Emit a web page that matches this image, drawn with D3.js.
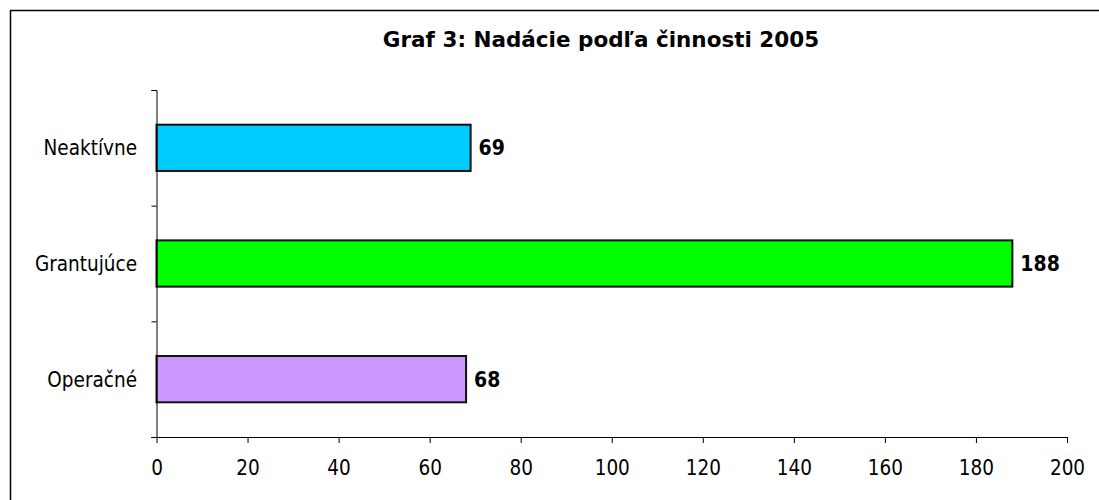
<!DOCTYPE html>
<html>
<head>
<meta charset="utf-8">
<script src="https://cdn.jsdelivr.net/npm/d3@7"></script>
<style>
  html, body { margin: 0; padding: 0; background: #fff; overflow: hidden; }
  svg { display: block; }
  text { font-family: "DejaVu Sans Condensed", "DejaVu Sans", sans-serif; fill: #000; }
</style>
</head>
<body>
<svg id="chart" width="1099" height="500"></svg>
<script>
const title = "Graf 3: Nadácie podľa činnosti 2005";
const categories = ["Neaktívne", "Grantujúce", "Operačné"];
const values = [69, 188, 68];
const colors = ["#00CCFF", "#00FF00", "#CC99FF"];
const xTicks = [0, 20, 40, 60, 80, 100, 120, 140, 160, 180, 200];

const svg = d3.select("#chart");

// outer frame
svg.append("rect")
  .attr("x", 10.5).attr("y", 10.5)
  .attr("width", 1200).attr("height", 600)
  .attr("fill", "#fff").attr("stroke", "#000").attr("stroke-width", 1.5);

const plot = { left: 156.5, right: 1067, top: 90, bottom: 437 };

const x = d3.scaleLinear().domain([0, 200]).range([plot.left, plot.right]);
const y = d3.scaleBand().domain(categories).range([plot.top, plot.bottom])
  .paddingInner(0.6).paddingOuter(0.3);
const yEdges = d3.scaleLinear().domain([0, categories.length]).range([plot.top, plot.bottom]);

// title
svg.append("text")
  .attr("x", 601).attr("y", 47)
  .attr("text-anchor", "middle")
  .style("font-family", "'DejaVu Sans', sans-serif")
  .style("font-weight", "bold").style("font-size", "21.5px")
  .text(title);

// bars
svg.selectAll("rect.bar").data(values).join("rect")
  .attr("class", "bar")
  .attr("x", x(0))
  .attr("y", (d, i) => y(categories[i]))
  .attr("width", d => x(d) - x(0))
  .attr("height", y.bandwidth())
  .attr("fill", (d, i) => colors[i])
  .attr("stroke", "#111").attr("stroke-width", 2);

// value labels
svg.selectAll("text.val").data(values).join("text")
  .attr("class", "val")
  .attr("x", d => x(d) + 8)
  .attr("y", (d, i) => y(categories[i]) + y.bandwidth() / 2)
  .attr("dy", "0.36em")
  .style("font-weight", "bold").style("font-size", "21px")
  .text(d => d);

// x axis
const xAxis = svg.append("g")
  .attr("transform", `translate(0,${plot.bottom})`)
  .call(d3.axisBottom(x).tickValues(xTicks).tickSize(6).tickPadding(17).tickFormat(d3.format("d")));
xAxis.select(".domain").attr("stroke", "#000").attr("d", `M${plot.left - 5},0.5H${plot.right}`);
xAxis.selectAll("line").attr("stroke", "#000");
xAxis.selectAll("text").style("font-size", "20.5px").style("font-family", "'DejaVu Sans Condensed', 'DejaVu Sans', sans-serif");

// y axis line with ticks at band edges
const yAxis = svg.append("g")
  .attr("transform", `translate(${plot.left},0)`)
  .call(d3.axisLeft(yEdges).ticks(3).tickSize(5).tickFormat(""));
yAxis.select(".domain").attr("stroke", "#000");
yAxis.selectAll("line").attr("stroke", "#000");

// category labels
svg.selectAll("text.cat").data(categories).join("text")
  .attr("class", "cat")
  .attr("x", 137)
  .attr("y", d => y(d) + y.bandwidth() / 2)
  .attr("dy", "0.36em")
  .attr("text-anchor", "end")
  .style("font-size", "20.5px")
  .text(d => d);
</script>
</body>
</html>
